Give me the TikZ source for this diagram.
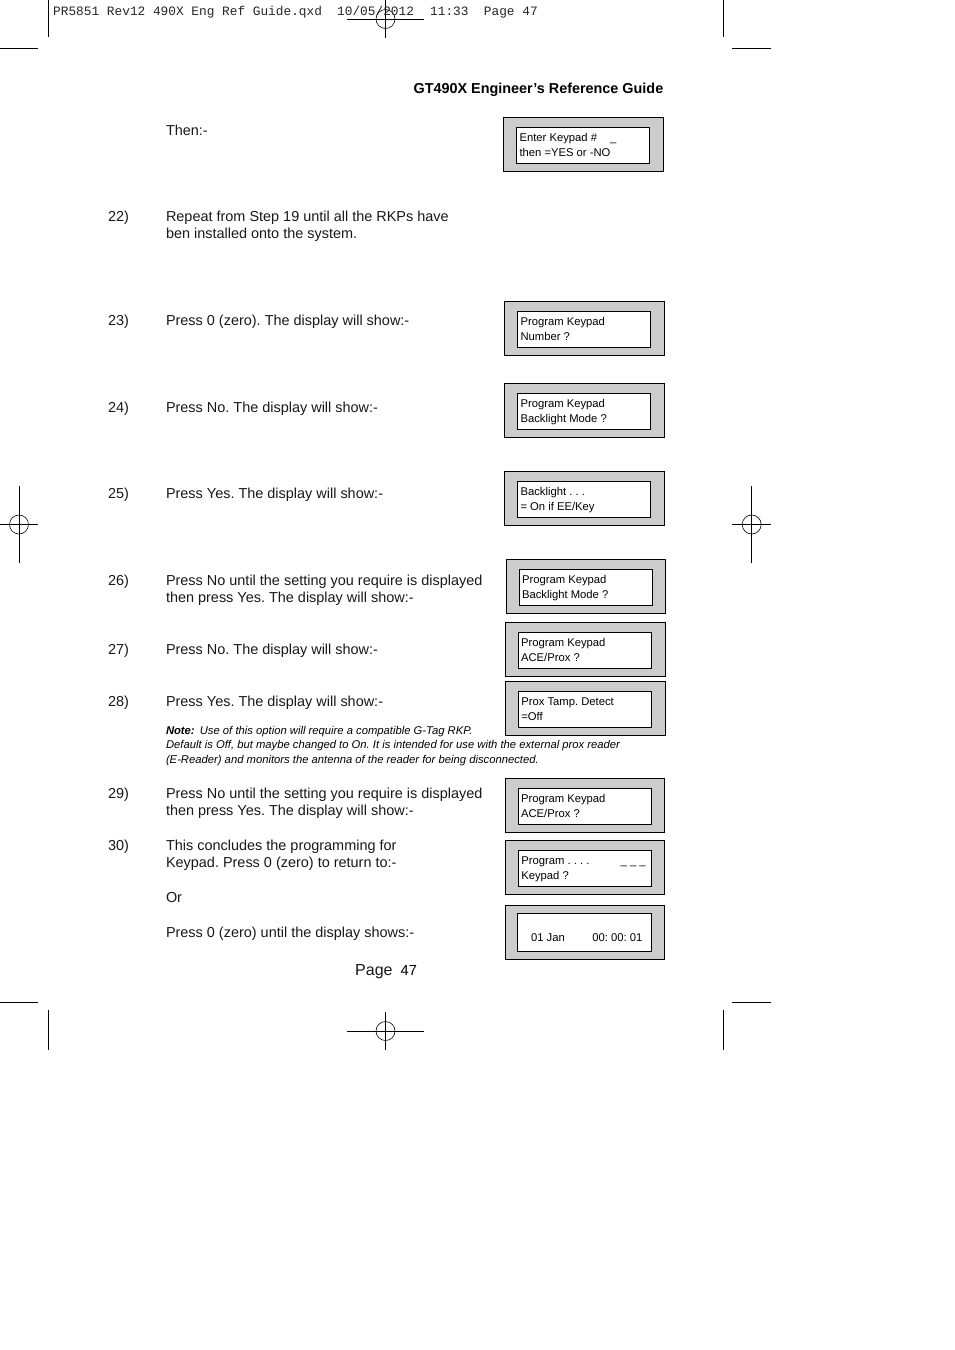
\documentclass[tikz,border=0pt]{standalone}
\usepackage{fontspec}
\setmainfont{Liberation Sans}
\newfontfamily\crop{Liberation Mono}
\definecolor{panel}{RGB}{204,204,204}
\frenchspacing
\tikzset{
 x=1pt,y=-1pt,
 body/.style={anchor=base west,inner sep=0pt,outer sep=0pt,text=black!90,font=\fontsize{14.45}{17}\selectfont},
 disp/.style={anchor=base west,inner sep=0pt,outer sep=0pt,font=\fontsize{11.25}{13}\selectfont},
 notetext/.style={anchor=base west,inner sep=0pt,outer sep=0pt,font=\fontsize{11.25}{13}\selectfont\itshape},
 mark line/.style={line width=0.9pt},
 outerp/.style={draw=black,fill=panel,line width=1pt},
 innerp/.style={draw=black,fill=white,line width=1pt},
}
\newcommand{\panel}[9]{%
 \path[outerp] (#2,#3) rectangle (#4-0.7,#5-0.7);
 \path[innerp] (#6,#7) rectangle (#8-0.7,#9-0.7);
}
\begin{document}
\begin{tikzpicture}
\useasboundingbox (0,0) rectangle (954,1350);
\fill[white] (0,0) rectangle (954,1350);
% crop marks
\foreach \a/\b/\c/\d in {48/0/48/37, 0/48/38/48, 723/0/723/37, 732/48/771/48, 48/1010/48/1050, 0/1002/38/1002, 723/1010/723/1050, 732/1002/771/1002}
 \draw[mark line] (\a,\b) -- (\c,\d);
\foreach \cx/\cy/\hx/\hy in {385.5/19/38.5/19, 19/524.5/19/38.5, 751.7/524.5/19.3/38.5, 385.5/1031/38.5/19}{
 \draw[mark line] (\cx-\hx,\cy) -- (\cx+\hx,\cy);
 \draw[mark line] (\cx,\cy-\hy) -- (\cx,\cy+\hy);
 \draw[line width=0.6pt] (\cx,\cy) circle (9.5);
}
\node[anchor=base west,inner sep=0pt,font=\crop\fontsize{12.8}{15}\selectfont,text=black!85] (slug) at (53,15) {PR5851 Rev12 490X Eng Ref Guide.qxd\hspace{7.5pt} 10/05/2012\hspace{8.5pt} 11:33\hspace{7.7pt} Page 47};
\node[anchor=base east,inner sep=0pt,font=\bfseries\fontsize{14.4}{17}\selectfont] (head) at (663.5,93) {GT490X Engineer’s Reference Guide};
% panels
\panel{a}{503}{117}{664}{172}{516}{127}{650}{164}
\panel{b}{504}{301}{665}{356}{517}{311}{651}{348}
\panel{c}{504}{383}{665}{438}{517}{393}{651}{430}
\panel{d}{504}{471}{665}{526}{517}{481}{651}{518}
\panel{e}{506}{559}{666}{614}{519}{569}{653}{606}
\panel{f}{505}{622}{666}{677}{518}{632}{652}{669}
\panel{g}{505}{681}{666}{736}{518}{691}{652}{728}
\panel{h}{505}{778}{665}{833}{518}{788}{652}{825}
\panel{i}{505}{840}{665}{895}{518}{850}{652}{887}
\panel{j}{505}{905}{665}{960}{517}{913}{652}{952}
% panel text
\node[disp] (a1) at (519.5,141) {Enter Keypad \#\hspace{13pt}\_};
\node[disp] (a2) at (519.5,156) {then =YES or -NO};
\node[disp] (b1) at (520.5,325) {Program Keypad};
\node[disp] (b2) at (520.5,340) {Number ?};
\node[disp] (c1) at (520.5,407) {Program Keypad};
\node[disp] (c2) at (520.5,422) {Backlight Mode ?};
\node[disp] (d1) at (520.5,495) {Backlight . . .};
\node[disp] (d2) at (520.5,510) {= On if EE/Key};
\node[disp] (e1) at (522,583) {Program Keypad};
\node[disp] (e2) at (522,598) {Backlight Mode ?};
\node[disp] (f1) at (521,646) {Program Keypad};
\node[disp] (f2) at (521,661) {ACE/Prox ?};
\node[disp] (g1) at (521.3,705) {Prox Tamp. Detect};
\node[disp] (g2) at (521.3,720) {=Off};
\node[disp] (h1) at (521,802) {Program Keypad};
\node[disp] (h2) at (521,817) {ACE/Prox ?};
\node[disp] (i1) at (521.3,864) {Program . . . .};
\node[disp] (i2) at (521.3,879) {Keypad ?};
\node[disp] (i3) at (620.7,864) {\_ \_ \_};
\node[disp] (j1) at (531,941) {01 Jan};
\node[disp] (j2) at (592.3,941) {00: 00: 01};
% body text
\node[body] (then) at (166,135) {Then:-};
\node[body] (n22) at (108,221) {22)};
\node[body] (t22a) at (166,221) {Repeat from Step 19 until all the RKPs have};
\node[body] (t22b) at (166,238) {ben installed onto the system.};
\node[body] (n23) at (108,325) {23)};
\node[body] (t23) at (166,325) {Press 0 (zero). The display will show:-};
\node[body] (n24) at (108,412) {24)};
\node[body] (t24) at (166,412) {Press No. The display will show:-};
\node[body] (n25) at (108,498) {25)};
\node[body] (t25) at (166,498) {Press Yes. The display will show:-};
\node[body] (n26) at (108,585) {26)};
\node[body] (t26a) at (166,585) {Press No until the setting you require is displayed};
\node[body] (t26b) at (166,602) {then press Yes. The display will show:-};
\node[body] (n27) at (108,654) {27)};
\node[body] (t27) at (166,654) {Press No. The display will show:-};
\node[body] (n28) at (108,706) {28)};
\node[body] (t28) at (166,706) {Press Yes. The display will show:-};
\node[notetext] (note1) at (166,734) {\textbf{Note:}\hspace{2pt} Use of this option will require a compatible G-Tag RKP.};
\node[notetext] (note2) at (166,748) {Default is Off, but maybe changed to On. It is intended for use with the external prox reader};
\node[notetext] (note3) at (166,763) {(E-Reader) and monitors the antenna of the reader for being disconnected.};
\node[body] (n29) at (108,798) {29)};
\node[body] (t29a) at (166,798) {Press No until the setting you require is displayed};
\node[body] (t29b) at (166,815) {then press Yes. The display will show:-};
\node[body] (n30) at (108,850) {30)};
\node[body] (t30a) at (166,850) {This concludes the programming for};
\node[body] (t30b) at (166,867) {Keypad. Press 0 (zero) to return to:-};
\node[body] (or) at (166,902) {Or};
\node[body] (t31) at (166,937) {Press 0 (zero) until the display shows:-};
\node[anchor=base west,inner sep=0pt,font=\fontsize{16}{18}\selectfont,text=black!90] (page) at (355,975) {Page};
\node[anchor=base west,inner sep=0pt,font=\fontsize{14.6}{16}\selectfont] (pnum) at (400.5,975) {47};
\end{tikzpicture}
\end{document}
